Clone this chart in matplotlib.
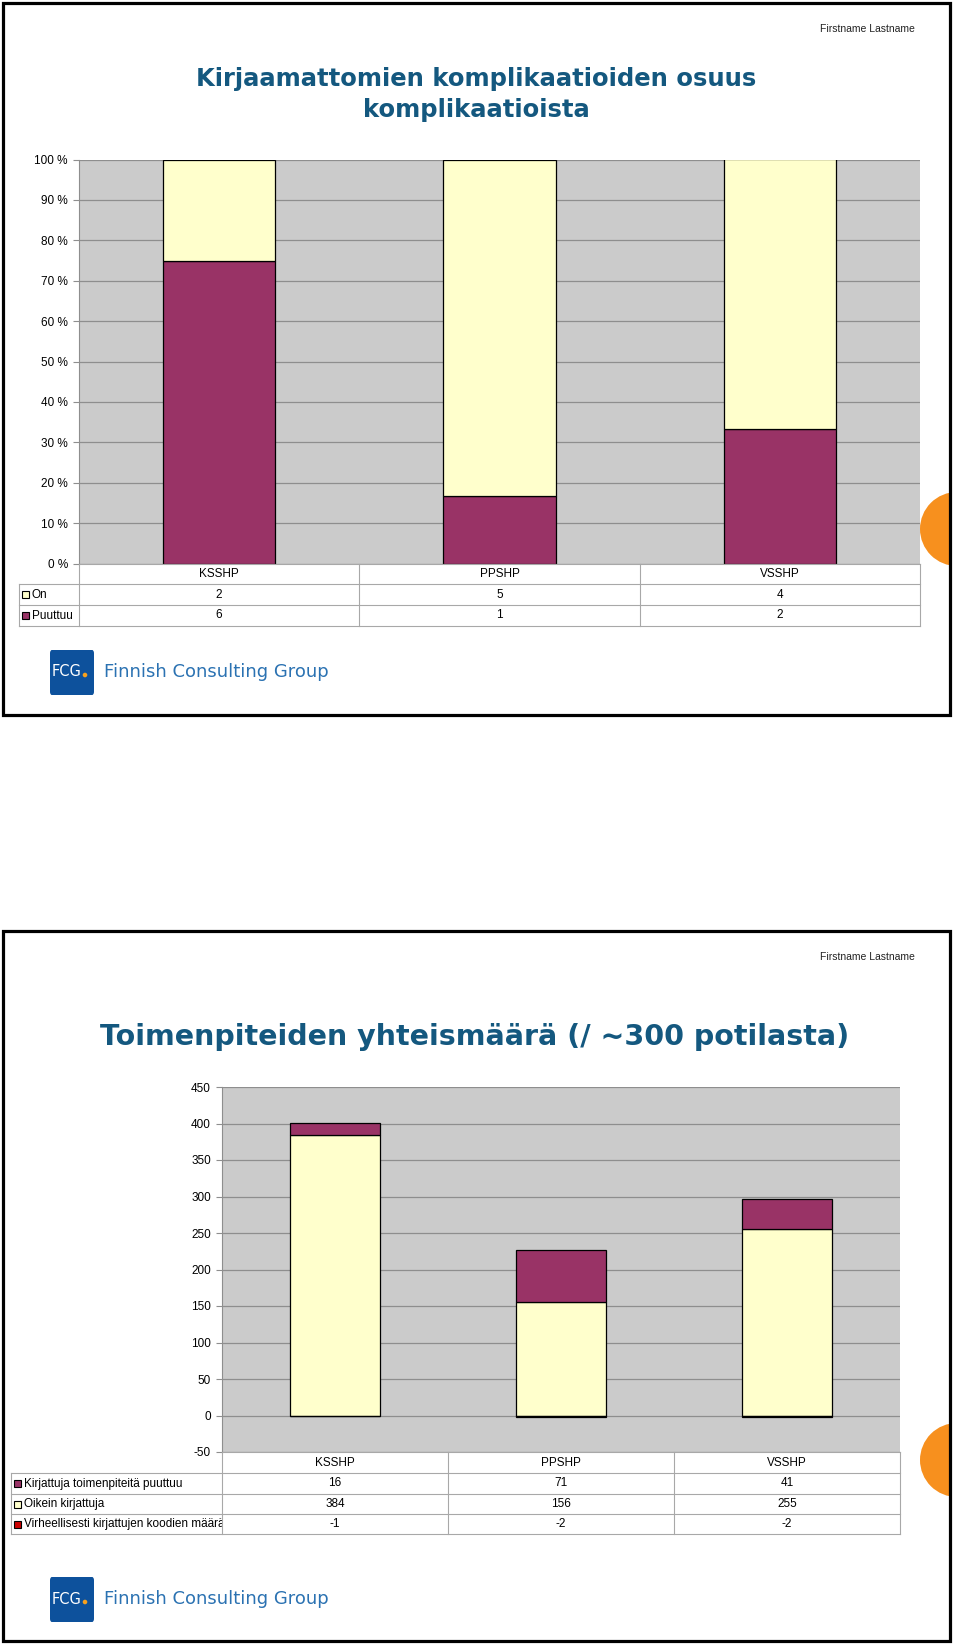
import matplotlib
matplotlib.use("Agg")
import matplotlib.pyplot as plt
from matplotlib.patches import Rectangle, Circle, FancyBboxPatch
import numpy as np

plt.rcParams['font.family'] = ['Liberation Sans', 'DejaVu Sans']

# ---- data ----
categories = ['KSSHP', 'PPSHP', 'VSSHP']

# chart 1: complications recorded / missing
on_counts = [2, 5, 4]
puuttuu_counts = [6, 1, 2]
pct_ticks = [0, 10, 20, 30, 40, 50, 60, 70, 80, 90, 100]

# chart 2: procedures
kirjattuja_puuttuu = [16, 71, 41]
oikein_kirjattuja = [384, 156, 255]
virheelliset = [-1, -2, -2]
count_ticks = [-50, 0, 50, 100, 150, 200, 250, 300, 350, 400, 450]

W, H = 960, 1645
PURPLE = '#993366'
CREAM = '#FFFFCC'
RED = '#CC0000'
BG = '#CBCBCB'
GRID = '#8E8E8E'
TITLE = '#14587F'
LINE = '#A8A8A8'

fig = plt.figure(figsize=(W / 100, H / 100), dpi=100)


def fx(x):
    return x / W


def fy(y):
    return 1 - y / H


def add_px_axes(x0, y0, x1, y1, **kw):
    return fig.add_axes([fx(x0), fy(y1), (x1 - x0) / W, (y1 - y0) / H], **kw)


def px_circle(x, y, r, color, **kw):
    # circle given in pixels, drawn in inches so it stays round
    c = Circle((x / 100, (H - y) / 100), r / 100, transform=fig.dpi_scale_trans,
               facecolor=color, edgecolor='none', **kw)
    fig.add_artist(c)
    return c


def slide_frame(top, bottom, circle_y):
    frame = Rectangle((fx(3), fy(bottom)), 947 / W, (bottom - top) / H,
                      transform=fig.transFigure, fill=False, lw=2.3,
                      edgecolor='black', zorder=10)
    clip = Rectangle((fx(3), fy(bottom)), 947 / W, (bottom - top) / H,
                     transform=fig.transFigure, visible=False)
    fig.add_artist(clip)
    circ = px_circle(957, circle_y, 37, '#F7901E', zorder=1)
    circ.set_clip_path(clip)
    fig.add_artist(frame)
    fig.text(fx(915), fy(top + 26), 'Firstname Lastname', ha='right', va='center',
             fontsize=7.5, color='#222222')


def logo(y_top):
    box = FancyBboxPatch((fx(50), fy(y_top + 45)), 44 / W, 45 / H,
                         boxstyle='round,pad=0,rounding_size=0.002',
                         transform=fig.transFigure, facecolor='#0D519C',
                         edgecolor='none')
    fig.add_artist(box)
    fig.text(fx(67), fy(y_top + 22), 'FCG', ha='center', va='center',
             fontsize=10.5, color='white', family='DejaVu Sans')
    px_circle(85, y_top + 25, 2.3, '#F7A11E')
    fig.text(fx(104), fy(y_top + 22), 'Finnish Consulting Group', ha='left',
             va='center', fontsize=13, color='#2B72B2', family='DejaVu Sans')


def style_plot(ax, ticks, labels, ymin, ymax):
    ax.set_facecolor(BG)
    ax.set_xlim(-0.5, 2.5)
    ax.set_ylim(ymin, ymax)
    ax.set_yticks(ticks)
    ax.set_yticklabels(labels, fontsize=8.5)
    ax.set_xticks([])
    ax.yaxis.grid(True, color=GRID, lw=0.9)
    ax.set_axisbelow(True)
    for s in ['top', 'right', 'bottom']:
        ax.spines[s].set_visible(False)
    ax.spines['left'].set_color(GRID)
    ax.tick_params(axis='y', length=4, color=GRID, pad=4)


def data_table(x_lab, x0, x1, y_rows, rows):
    # y_rows: pixel y of the row borders (header first)
    ncat = len(categories)
    colw = (x1 - x0) / ncat
    for i, b in enumerate(y_rows):
        left = x0 if i == 0 else x_lab
        fig.add_artist(plt.Line2D([fx(left), fx(x1)], [fy(b), fy(b)],
                                  transform=fig.transFigure, color=LINE, lw=0.8))
    for k in range(ncat + 1):
        xx = x0 + k * colw
        fig.add_artist(plt.Line2D([fx(xx), fx(xx)], [fy(y_rows[0]), fy(y_rows[-1])],
                                  transform=fig.transFigure, color=LINE, lw=0.8))
    fig.add_artist(plt.Line2D([fx(x_lab), fx(x_lab)], [fy(y_rows[1]), fy(y_rows[-1])],
                              transform=fig.transFigure, color=LINE, lw=0.8))
    for k, c in enumerate(categories):
        fig.text(fx(x0 + (k + 0.5) * colw), fy((y_rows[0] + y_rows[1]) / 2), c,
                 ha='center', va='center', fontsize=8.5)
    # label column axes so long labels get clipped
    lab_ax = add_px_axes(x_lab, y_rows[1], x0, y_rows[-1])
    lab_ax.set_axis_off()
    lab_ax.set_xlim(x_lab, x0)
    lab_ax.set_ylim(y_rows[-1], y_rows[1])
    for r, (name, color, vals) in enumerate(rows):
        yc = (y_rows[r + 1] + y_rows[r + 2]) / 2
        lab_ax.add_patch(Rectangle((x_lab + 3, yc - 3.5), 7, 7, facecolor=color,
                                   edgecolor='black', lw=0.8, clip_on=True))
        lab_ax.text(x_lab + 13, yc, name, ha='left', va='center', fontsize=8.5,
                    clip_on=True)
        for k, v in enumerate(vals):
            fig.text(fx(x0 + (k + 0.5) * colw), fy(yc), str(v), ha='center',
                     va='center', fontsize=8.5)


x = np.arange(len(categories))

# ---- slide 1 ----
slide_frame(3, 715, 529)
fig.text(fx(476), fy(79), 'Kirjaamattomien komplikaatioiden osuus', ha='center',
         va='center', fontsize=17.5, color=TITLE, fontweight='bold', family='DejaVu Sans')
fig.text(fx(476), fy(110), 'komplikaatioista', ha='center', va='center',
         fontsize=17.5, color=TITLE, fontweight='bold', family='DejaVu Sans')

ax1 = add_px_axes(79, 159.5, 920, 563.5)
style_plot(ax1, pct_ticks, ['%d %%' % t for t in pct_ticks], 0, 100)
tot = np.array(on_counts) + np.array(puuttuu_counts)
p_puuttuu = np.array(puuttuu_counts) / tot * 100
p_on = np.array(on_counts) / tot * 100
ax1.bar(x, p_puuttuu, width=0.40, color=PURPLE, edgecolor='black', lw=0.9)
ax1.bar(x, p_on, bottom=p_puuttuu, width=0.40, color=CREAM, edgecolor='black', lw=0.9)

data_table(19, 79, 920, [563.5, 584, 605, 626],
           [('On', CREAM, on_counts), ('Puuttuu', PURPLE, puuttuu_counts)])
logo(650)

# ---- slide 2 ----
slide_frame(931, 1641, 1460)
fig.text(fx(475), fy(1037), 'Toimenpiteiden yhteismäärä (/ ~300 potilasta)',
         ha='center', va='center', fontsize=20.5, color=TITLE, fontweight='bold',
         family='DejaVu Sans')

ax2 = add_px_axes(222, 1087, 900, 1452)
style_plot(ax2, count_ticks, [str(t) for t in count_ticks], -50, 450)
ax2.bar(x, oikein_kirjattuja, width=0.40, color=CREAM, edgecolor='black', lw=0.9)
ax2.bar(x, kirjattuja_puuttuu, bottom=oikein_kirjattuja, width=0.40, color=PURPLE,
        edgecolor='black', lw=0.9)
ax2.bar(x, virheelliset, width=0.40, color=RED, edgecolor='black', lw=0.9)

data_table(10.5, 222, 900, [1452, 1473, 1494, 1514, 1534],
           [('Kirjattuja toimenpiteitä puuttuu', PURPLE, kirjattuja_puuttuu),
            ('Oikein kirjattuja', CREAM, oikein_kirjattuja),
            ('Virheellisesti kirjattujen koodien määrä', RED, virheelliset)])
logo(1577)

fig.savefig('out.png', dpi=100, facecolor='white')
